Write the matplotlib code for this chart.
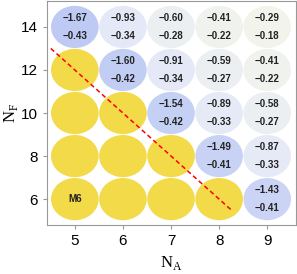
import numpy as np
import matplotlib
matplotlib.use("Agg")
import matplotlib.pyplot as plt
from matplotlib.patches import Ellipse
from matplotlib.colors import LinearSegmentedColormap, Normalize

# grid
n_a = [5, 6, 7, 8, 9]
n_f = [6, 8, 10, 12, 14]

# rows follow n_f, columns follow n_a; None = yellow (no value)
top_vals = [
    [None, None, None, None, -1.43],
    [None, None, None, -1.49, -0.87],
    [None, None, -1.54, -0.89, -0.58],
    [None, -1.60, -0.91, -0.59, -0.41],
    [-1.67, -0.93, -0.60, -0.41, -0.29],
]
bot_vals = [
    [None, None, None, None, -0.41],
    [None, None, None, -0.41, -0.33],
    [None, None, -0.42, -0.33, -0.27],
    [None, -0.42, -0.34, -0.27, -0.22],
    [-0.43, -0.34, -0.28, -0.22, -0.18],
]

# dividing line (N_A, N_F)
line_x = [4.5, 8.25]
line_y = [13.0, 5.5]

yellow = "#F3DA48"
cmap = LinearSegmentedColormap.from_list("bl", ["#F2F4EC", "#E4E8F8", "#BECAF4"])
norm = Normalize(vmin=0.29, vmax=1.67)

plt.rcParams["font.family"] = ["Liberation Sans", "DejaVu Sans"]
plt.rcParams["mathtext.fontset"] = "custom"
plt.rcParams["mathtext.rm"] = "Liberation Serif"

fig = plt.figure(figsize=(2.97, 2.74), dpi=100)
ax = fig.add_axes([0.158, 0.179, 0.839, 0.817])

for i, f in enumerate(n_f):
    for j, a in enumerate(n_a):
        v1 = top_vals[i][j]
        v2 = bot_vals[i][j]
        if v1 is None:
            col = yellow
        else:
            col = cmap(norm(-v1))
        ax.add_patch(Ellipse((a, f), 0.99, 1.96, facecolor=col, edgecolor="none"))
        if v1 is not None:
            ax.text(a, f + 0.42, f"{v1:.2f}".replace("-", "\u2212"), ha="center", va="center",
                    fontsize=7, fontweight="bold", color="#222222")
            ax.text(a, f - 0.42, f"{v2:.2f}".replace("-", "\u2212"), ha="center", va="center",
                    fontsize=7, fontweight="bold", color="#222222")

ax.text(n_a[0], n_f[0], "M6", ha="center", va="center", fontsize=7,
        fontweight="bold", color="#222222")

ax.plot(line_x, line_y, color="red", linestyle=(0, (3, 2)), linewidth=1.1)

ax.set_xlim(4.42, 9.6)
ax.set_ylim(4.8, 15.2)
ax.set_xticks(n_a)
ax.set_yticks(n_f)
ax.tick_params(labelsize=11, color="#999999", length=3, width=0.8)
for s in ax.spines.values():
    s.set_color("#999999")
    s.set_linewidth(0.8)

ax.set_xlabel(r"$\mathrm{N}_\mathrm{A}$", fontsize=12, labelpad=4)
ax.set_ylabel(r"$\mathrm{N}_\mathrm{F}$", fontsize=12, va="center")
ax.yaxis.set_label_coords(-0.145, 0.5)

fig.savefig("out.png", dpi=100)
